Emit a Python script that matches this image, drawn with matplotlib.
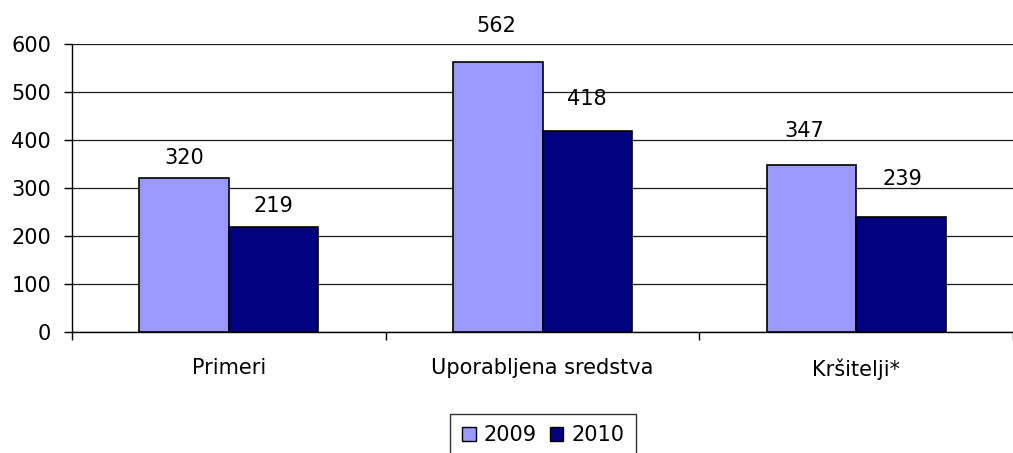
import matplotlib
matplotlib.use("Agg")
import matplotlib.pyplot as plt
import numpy as np
from matplotlib.patches import Patch

categories = ["Primeri", "Uporabljena sredstva", "Kršitelji*"]
series_names = ["2009", "2010"]
values_2009 = [320, 562, 347]
values_2010 = [219, 418, 239]
yticks = [0, 100, 200, 300, 400, 500, 600]

# label offsets above bar tops (pixels), per series
label_dy_2009 = [14, 30, 28]
label_dy_2010 = [15, 26, 32]
label_dx_2009 = [0, -1, -7]
label_dx_2010 = [0, 0, 1]

colors = ["#9999FF", "#000080"]

plt.rcParams['font.family'] = ['DejaVu Sans']
FS = 15

W, H = 1013, 453
fig = plt.figure(figsize=(W / 100, H / 100), dpi=100)
ax_left = 72 / W
ax_bottom = 1 - 332 / H
ax_top = 1 - 44 / H
ax = fig.add_axes([ax_left, ax_bottom, 1 - ax_left, ax_top - ax_bottom])

x = np.arange(len(categories))
bw = 90 / 315
px2pt = 72 / 100
for i, (vals, c, dys, dxs) in enumerate(zip([values_2009, values_2010], colors,
                                            [label_dy_2009, label_dy_2010],
                                            [label_dx_2009, label_dx_2010])):
    offs = (i - 0.5) * bw
    bars = ax.bar(x + offs, vals, width=bw, color=c, edgecolor="black", linewidth=1.2, zorder=3)
    for b, v, dy, dx in zip(bars, vals, dys, dxs):
        ax.annotate(str(v), (b.get_x() + b.get_width() / 2, v), xytext=(dx * px2pt, dy * px2pt),
                    textcoords="offset points", ha="center", va="baseline", fontsize=FS,
                    annotation_clip=False)

ax.set_ylim(0, 600)
ax.set_xlim(-0.5, 2.5 - 4 / 315)
ax.set_yticks(yticks)
ax.set_yticklabels([str(t) for t in yticks], fontsize=FS)
ax.set_xticks(x)
ax.set_xticklabels(categories, fontsize=FS)
ax.set_xticks([-0.5, 0.5, 1.5, 2.5], minor=True)
ax.tick_params(axis="x", which="major", length=0, pad=19)
ax.tick_params(axis="x", which="minor", length=6, width=1, color="black", direction="out")
ax.tick_params(axis="y", length=6, width=1, direction="out", pad=9)

ax.grid(axis="y", color="#1a1a1a", linewidth=0.9, zorder=0)
ax.set_axisbelow(True)
for s in ["top", "right"]:
    ax.spines[s].set_visible(False)
ax.spines["left"].set_color("black")
ax.spines["bottom"].set_color("black")
ax.spines["left"].set_linewidth(1)
ax.spines["bottom"].set_linewidth(1)
ax.set_facecolor("none")

handles = [Patch(facecolor=c, edgecolor="black", linewidth=1) for c in colors]
leg = fig.legend(handles, series_names, loc="upper center", bbox_to_anchor=(543 / W, 1 - 414 / H),
                 ncol=2, fontsize=FS, frameon=True, fancybox=False, edgecolor="black",
                 handlelength=0.67, handleheight=0.67, handletextpad=0.38, columnspacing=0.62,
                 borderpad=0.55, borderaxespad=0)
leg.get_frame().set_linewidth(1)

fig.savefig("out.png", dpi=100)
